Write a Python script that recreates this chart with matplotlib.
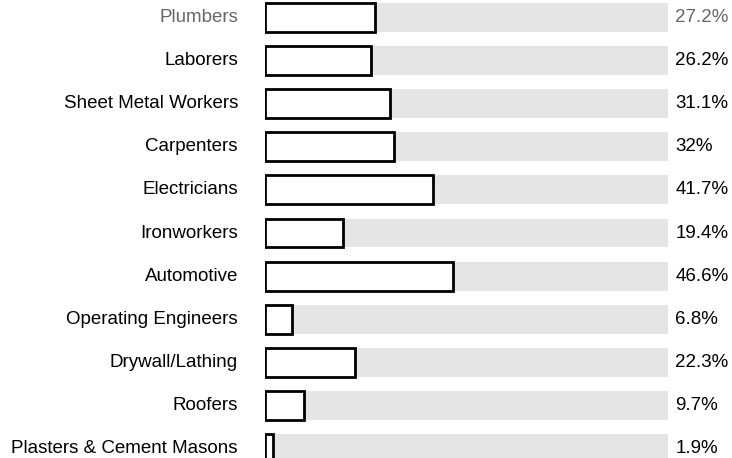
import matplotlib.pyplot as plt

plt.rcParams['font.family'] = ['Liberation Sans', 'DejaVu Sans']

trades = ['Plumbers', 'Laborers', 'Sheet Metal Workers', 'Carpenters', 'Electricians',
          'Ironworkers', 'Automotive', 'Operating Engineers', 'Drywall/Lathing',
          'Roofers', 'Plasters & Cement Masons']
values = [27.2, 26.2, 31.1, 32, 41.7, 19.4, 46.6, 6.8, 22.3, 9.7, 1.9]
labels = ['27.2%', '26.2%', '31.1%', '32%', '41.7%', '19.4%', '46.6%', '6.8%', '22.3%', '9.7%', '1.9%']

fig = plt.figure(figsize=(7.32, 4.58), dpi=100)
ax = fig.add_axes([265 / 732, 0, 403 / 732, 1])

pos = list(range(len(trades)))
h = 0.67
# grey background track
ax.barh(pos, [100] * len(pos), height=h, color='#e5e5e5', linewidth=0)
# value bars
ax.barh(pos, values, height=h, color='white', edgecolor='black', linewidth=2)

for i, (name, lab) in enumerate(zip(trades, labels)):
    c = '#666666' if i == 0 else 'black'
    ax.text(-6.7, i, name, ha='right', va='center', fontsize=13.5, color=c)
    ax.text(101.8, i, lab, ha='left', va='center', fontsize=13.5, color=c)

ax.set_xlim(0, 100)
ax.set_ylim(10.22, -0.406)
ax.axis('off')

fig.savefig('out.png', dpi=100)
